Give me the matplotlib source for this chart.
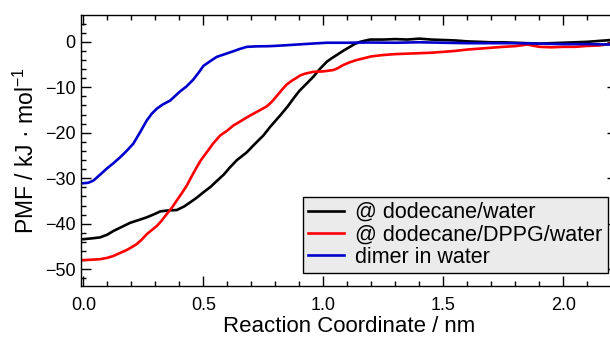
import matplotlib
matplotlib.use("Agg")
import matplotlib.pyplot as plt
from matplotlib.ticker import MultipleLocator

plt.rcParams["font.family"] = ["Liberation Sans", "DejaVu Sans"]
plt.rcParams["mathtext.default"] = "regular"

# PMF curves
x_dodecane = [0.0, 0.04, 0.07, 0.1, 0.125, 0.16, 0.195, 0.23, 0.264, 0.3, 0.32, 0.35,
              0.389, 0.42, 0.445, 0.472, 0.5, 0.53, 0.556, 0.585, 0.611, 0.64, 0.681,
              0.71, 0.75, 0.78, 0.82, 0.85, 0.875, 0.9, 0.93, 0.958, 0.985, 1.014,
              1.035, 1.056, 1.085, 1.111, 1.13, 1.153, 1.194, 1.25, 1.3, 1.35, 1.4,
              1.45, 1.5, 1.55, 1.6, 1.65, 1.7, 1.75, 1.8, 1.85, 1.9, 1.95, 2.0, 2.05,
              2.1, 2.15, 2.2, 2.23]
pmf_dodecane = [-43.4, -43.2, -43.0, -42.4, -41.6, -40.7, -39.8, -39.2, -38.6, -37.8,
                -37.3, -37.1, -37.0, -36.2, -35.3, -34.3, -33.1, -31.9, -30.6, -29.2,
                -27.6, -26.0, -24.3, -22.7, -20.6, -18.6, -16.2, -14.3, -12.5, -10.8,
                -9.2, -7.7, -6.0, -4.4, -3.6, -2.9, -1.9, -1.1, -0.5, 0.0, 0.5, 0.5,
                0.6, 0.5, 0.7, 0.5, 0.4, 0.3, 0.1, 0.0, -0.1, -0.1, -0.2, -0.3, -0.4,
                -0.3, -0.2, -0.1, 0.0, 0.2, 0.4, 0.5]

x_dppg = [0.0, 0.04, 0.07, 0.1, 0.125, 0.15, 0.18, 0.2, 0.222, 0.245, 0.264, 0.285,
          0.306, 0.325, 0.347, 0.37, 0.389, 0.41, 0.431, 0.45, 0.472, 0.49, 0.514,
          0.54, 0.57, 0.6, 0.625, 0.66, 0.695, 0.73, 0.764, 0.785, 0.806, 0.825,
          0.847, 0.87, 0.889, 0.903, 0.924, 0.958, 1.0, 1.042, 1.06, 1.083, 1.11,
          1.139, 1.17, 1.2, 1.25, 1.3, 1.35, 1.4, 1.45, 1.5, 1.55, 1.6, 1.65, 1.7,
          1.75, 1.8, 1.85, 1.9, 1.95, 2.0, 2.05, 2.1, 2.15, 2.2, 2.23]
pmf_dppg = [-48.0, -47.9, -47.8, -47.5, -47.1, -46.5, -45.8, -45.2, -44.5, -43.4,
            -42.3, -41.4, -40.5, -39.4, -37.9, -36.4, -34.9, -33.3, -31.6, -29.7,
            -27.6, -26.0, -24.3, -22.4, -20.6, -19.5, -18.4, -17.3, -16.2, -15.2,
            -14.2, -13.2, -11.9, -10.7, -9.4, -8.5, -7.9, -7.4, -7.0, -6.6, -6.5,
            -6.2, -5.8, -5.1, -4.5, -4.0, -3.6, -3.2, -2.9, -2.7, -2.6, -2.5, -2.4,
            -2.2, -2.0, -1.7, -1.5, -1.3, -1.1, -0.95, -0.6, -1.1, -1.2, -1.1, -1.1,
            -0.9, -0.8, -0.4, -0.3]

x_dimer = [0.0, 0.02, 0.042, 0.07, 0.097, 0.125, 0.153, 0.18, 0.208, 0.235, 0.264,
           0.285, 0.306, 0.33, 0.362, 0.403, 0.43, 0.458, 0.48, 0.5, 0.53, 0.556,
           0.59, 0.618, 0.65, 0.681, 0.72, 0.778, 0.83, 0.889, 0.95, 1.014, 1.1,
           1.19, 1.3, 1.4, 1.5, 1.6, 1.7, 1.8, 1.9, 2.0, 2.1, 2.2, 2.23]
pmf_dimer = [-31.1, -31.0, -30.5, -29.2, -27.9, -26.7, -25.4, -24.0, -22.4, -20.0,
             -17.3, -15.8, -14.7, -13.8, -12.9, -10.9, -9.8, -8.3, -6.8, -5.3, -4.2,
             -3.3, -2.7, -2.2, -1.6, -1.1, -1.0, -0.95, -0.8, -0.6, -0.4, -0.2, -0.2,
             -0.15, -0.2, -0.1, -0.2, -0.3, -0.3, -0.3, -0.4, -0.5, -0.5, -0.6, -0.6]

labels = ["@ dodecane/water", "@ dodecane/DPPG/water", "dimer in water"]

fig = plt.figure(figsize=(6.1, 3.41), dpi=100)
# axes run a bit past the right edge of the picture, like the original crop
ax = fig.add_axes([81 / 610, 55 / 341, 536 / 610, 271 / 341])

lw = 1.9
ax.plot(x_dodecane, pmf_dodecane, color="black", lw=lw, label=labels[0])
ax.plot(x_dppg, pmf_dppg, color="#ff0000", lw=lw, label=labels[1])
ax.plot(x_dimer, pmf_dimer, color="#0000cc", lw=lw, label=labels[2])

ax.set_xlim(-0.01, 2.224)
ax.set_ylim(-53.7, 5.9)

ax.xaxis.set_major_locator(MultipleLocator(0.5))
ax.xaxis.set_minor_locator(MultipleLocator(0.1))
ax.yaxis.set_major_locator(MultipleLocator(10))
ax.yaxis.set_minor_locator(MultipleLocator(2))
ax.tick_params(which="both", direction="in", top=True, right=True, width=1,
               labelsize=13)
ax.tick_params(which="major", length=7)
ax.tick_params(which="minor", length=3.5)
ax.tick_params(axis="x", pad=8)
ax.tick_params(axis="y", pad=4)
for s in ax.spines.values():
    s.set_linewidth(1)

ax.set_xlabel("Reaction Coordinate / nm", fontsize=16, labelpad=1)
ax.set_ylabel("PMF / kJ · mol$^{-1}$", fontsize=16.5, labelpad=4)

leg = ax.legend(loc="lower right", bbox_to_anchor=(608 / 610, 1 - 273 / 341),
                bbox_transform=fig.transFigure, borderaxespad=0, fontsize=15.5,
                fancybox=False, framealpha=1, facecolor="#ebebeb",
                edgecolor="black", handlelength=1.65, handletextpad=0.55,
                labelspacing=0.06, borderpad=0.25)
leg.get_frame().set_linewidth(1)

fig.savefig("out.png", dpi=100)
